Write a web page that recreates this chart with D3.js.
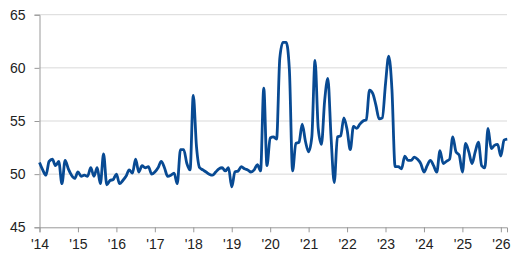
<!DOCTYPE html>
<html>
<head>
<meta charset="utf-8">
<script src="https://cdn.jsdelivr.net/npm/d3@7"></script>
<style>
  body { margin: 0; background: #fff; }
  svg { display: block; }
  .tick text { font-family: "Liberation Sans", Arial, sans-serif; font-size: 14px; fill: #222; }
</style>
</head>
<body>
<svg id="chart" width="512" height="257"></svg>
<script>
// monthly values, Jan 2014 onwards
var startYear = 2014
var values = [
  51.1, 50.4, 49.9, 51.2, 51.4, 50.8, 51.2, 49.1, 51.3, 50.5, 49.9, 49.6,
  50.2, 49.8, 49.9, 49.8, 50.6, 49.8, 50.6, 49.1, 51.9, 49.0, 49.4, 49.5,
  50.0, 49.1, 49.4, 49.8, 50.4, 50.1, 51.4, 50.2, 50.8, 50.6, 50.7, 50.0,
  50.2, 50.6, 51.2, 50.6, 49.8, 49.9, 50.1, 49.1, 52.3, 52.3, 51.0, 50.4,
  57.4, 52.6, 50.6, 50.4, 50.2, 50.0, 49.9, 50.2, 50.5, 50.6, 50.3, 50.6,
  48.8, 50.2, 50.3, 50.7, 50.5, 50.4, 50.2, 50.4, 50.9, 50.3, 58.1, 50.8,
  53.4, 53.5, 53.3, 60.9, 62.4, 62.4, 59.8, 50.3, 52.9, 53.0, 54.7, 53.1,
  52.1, 53.5, 60.7, 54.3, 52.8, 56.9, 59.0, 53.5, 49.2, 53.5, 53.6, 55.3,
  54.2, 52.3, 54.5, 54.3, 54.7, 55.0, 55.1, 57.9, 57.6, 56.5, 55.2, 55.3,
  58.5, 61.1, 58.0, 50.7, 50.7, 50.5, 51.7, 51.3, 51.3, 51.6, 51.4, 51.0,
  50.2, 50.8, 51.3, 50.8, 50.2, 52.2, 51.0, 51.2, 51.4, 53.5, 52.1, 51.8,
  50.2, 52.9, 52.1, 51.0, 52.1, 53.0, 50.8, 50.6, 54.3, 52.4, 52.7, 52.8,
  51.7, 53.2, 53.3
]
var xTickYears = d3.range(2014, 2027)
var yTicks = [45, 50, 55, 60, 65]

var svg = d3.select('#chart')
var mLeft = 39.5, mRight = 507, mTop = 14.7, mBottom = 227.3

var x = d3.scaleLinear().domain([2014, 2026.16]).range([mLeft, mRight])
var y = d3.scaleLinear().domain([45, 65]).range([mBottom, mTop])

// gridlines
svg.append('g')
  .selectAll('line')
  .data(yTicks.slice(1))
  .join('line')
  .attr('x1', mLeft).attr('x2', mRight)
  .attr('y1', d => y(d)).attr('y2', d => y(d))
  .attr('stroke', '#d9d9d9').attr('stroke-width', 1)

var yAxis = svg.append('g')
  .attr('transform', 'translate(' + mLeft + ',0)')
  .call(d3.axisLeft(y).tickValues(yTicks).tickSize(5).tickPadding(9))
yAxis.select('.domain').attr('stroke', '#999')
yAxis.selectAll('.tick line').attr('stroke', '#999')

var xAxis = svg.append('g')
  .attr('transform', 'translate(0,' + mBottom + ')')
  .call(d3.axisBottom(x).tickValues(xTickYears).tickSize(5).tickPadding(7)
    .tickFormat(d => "'" + String(d).slice(2)))
xAxis.select('.domain').attr('stroke', '#999')
xAxis.selectAll('.tick line').attr('stroke', '#999')

var line = d3.line()
  .x((d, i) => x(startYear + i / 12))
  .y(d => y(d))
  .curve(d3.curveMonotoneX)

svg.append('path')
  .datum(values)
  .attr('d', line)
  .attr('fill', 'none')
  .attr('stroke', '#084a93')
  .attr('stroke-width', 2.8)
  .attr('stroke-linejoin', 'round')
</script>
</body>
</html>
